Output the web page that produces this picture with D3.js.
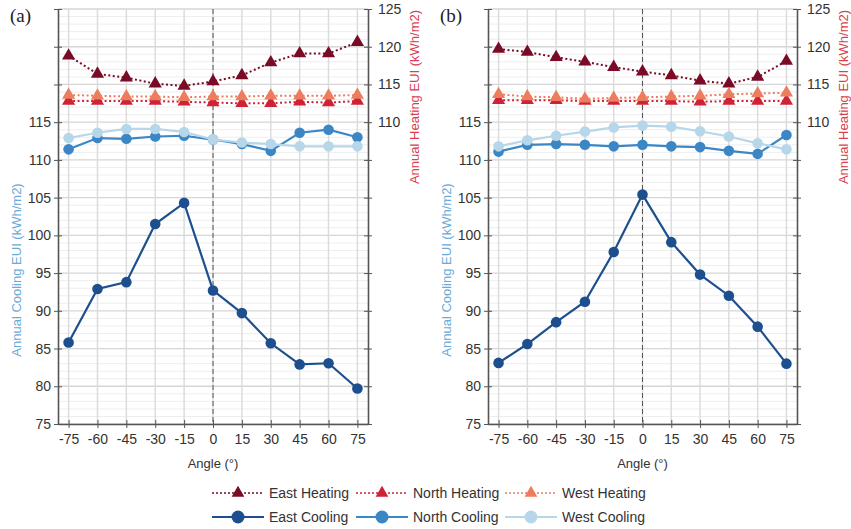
<!DOCTYPE html>
<html>
<head>
<meta charset="utf-8">
<script src="https://cdn.jsdelivr.net/npm/d3@7"></script>
<style>
  body { margin: 0; background: #fff; }
  svg text { font-family: "Liberation Sans", Arial, sans-serif; fill: #333; }
</style>
</head>
<body>
<svg id="chart" width="851" height="529"></svg>
<script>
// angles shared by both panels
const angles = [-75, -60, -45, -30, -15, 0, 15, 30, 45, 60, 75];

// panel (a)
const aEastHeating  = [118.8, 116.4, 115.9, 115.1, 114.8, 115.4, 116.2, 117.9, 119.1, 119.1, 120.6];
const aNorthHeating = [112.8, 112.8, 112.8, 112.8, 112.7, 112.6, 112.5, 112.5, 112.7, 112.6, 112.8];
const aWestHeating  = [113.6, 113.5, 113.4, 113.4, 113.3, 113.4, 113.4, 113.5, 113.5, 113.5, 113.6];
const aEastCooling  = [85.8, 92.9, 93.8, 101.5, 104.3, 92.7, 89.7, 85.7, 82.9, 83.05, 79.7];
const aNorthCooling = [111.4, 112.9, 112.8, 113.1, 113.2, 112.7, 112.1, 111.2, 113.6, 114.0, 113.0];
const aWestCooling  = [112.9, 113.6, 114.1, 114.1, 113.7, 112.7, 112.3, 112.1, 111.8, 111.8, 111.8];

// panel (b)
const bEastHeating  = [119.7, 119.3, 118.6, 118.0, 117.3, 116.7, 116.2, 115.5, 115.1, 116.0, 118.1];
const bNorthHeating = [112.9, 112.9, 112.9, 112.8, 112.8, 112.8, 112.8, 112.7, 112.8, 112.8, 112.8];
const bWestHeating  = [113.7, 113.4, 113.3, 113.1, 113.2, 113.3, 113.4, 113.5, 113.7, 113.8, 113.9];
const bEastCooling  = [83.1, 85.6, 88.5, 91.2, 97.8, 105.4, 99.1, 94.8, 92.0, 87.9, 83.0];
const bNorthCooling = [111.1, 112.0, 112.1, 112.0, 111.8, 112.0, 111.8, 111.7, 111.2, 110.8, 113.3];
const bWestCooling  = [111.8, 112.6, 113.2, 113.75, 114.3, 114.55, 114.4, 113.8, 113.1, 112.2, 111.4];

const leftTickLabels = [75, 80, 85, 90, 95, 100, 105, 110, 115];
const rightTickLabels = [110, 115, 120, 125];

const seriesNames = ['East Heating', 'North Heating', 'West Heating', 'East Cooling', 'North Cooling', 'West Cooling'];
const seriesColors = {
    'East Heating': '#7a0b26',
    'North Heating': '#cf2236',
    'West Heating': '#ec7d5e',
    'East Cooling': '#1d4f8f',
    'North Cooling': '#3b87c6',
    'West Cooling': '#b6d6ea'
};

const svg = d3.select('#chart');
const plotTop = 9, plotBottom = 424;

// Cooling on the left axis, heating on the right axis
const yLeft = d3.scaleLinear().domain([75, 130]).range([plotBottom, plotTop]);
const yRight = d3.scaleLinear().domain([70, 125]).range([plotBottom, plotTop]);

function drawPanel(x0, x1, label, heat, cool) {
    const x = d3.scaleLinear().domain([-80.5, 80.5]).range([x0, x1]);
    const g = svg.append('g');

    // minor + major horizontal grid
    g.append('g').selectAll('line')
        .data(d3.range(75, 131, 1))
        .join('line')
        .attr('x1', x0).attr('x2', x1)
        .attr('y1', d => yLeft(d)).attr('y2', d => yLeft(d))
        .style('stroke', d => d % 5 === 0 ? '#d6d6d6' : '#eeeeee')
        .style('stroke-width', d => d % 5 === 0 ? 1.3 : 1);

    // vertical grid
    g.append('g').selectAll('line')
        .data(angles)
        .join('line')
        .attr('x1', d => x(d)).attr('x2', d => x(d))
        .attr('y1', plotTop).attr('y2', plotBottom)
        .style('stroke', '#dcdcdc')
        .style('stroke-width', 1.5);

    // dashed line at 0
    g.append('line')
        .attr('x1', x(0)).attr('x2', x(0))
        .attr('y1', plotTop).attr('y2', plotBottom)
        .style('stroke', '#555')
        .style('stroke-width', 1)
        .style('stroke-dasharray', '5,3');

    // axes
    const axisLeft = d3.axisLeft(yLeft)
        .tickValues(d3.range(75, 131, 5))
        .tickSizeInner(4).tickSizeOuter(0)
        .tickFormat(d => leftTickLabels.includes(d) ? String(d) : '');
    const axisRight = d3.axisRight(yRight)
        .tickValues(d3.range(70, 126, 5))
        .tickSizeInner(4).tickSizeOuter(0)
        .tickFormat(d => rightTickLabels.includes(d) ? String(d) : '');
    const axisBottom = d3.axisBottom(x)
        .tickValues(angles)
        .tickSizeInner(4).tickSizeOuter(0)
        .tickFormat(d => String(d));

    const la = g.append('g').attr('transform', `translate(${x0},0)`).call(axisLeft);
    const ra = g.append('g').attr('transform', `translate(${x1},0)`).call(axisRight);
    const ba = g.append('g').attr('transform', `translate(0,${plotBottom})`).call(axisBottom);
    [la, ra, ba].forEach(a => {
        a.select('.domain').style('stroke', '#555').style('stroke-width', 1.6);
        a.selectAll('.tick line').style('stroke', '#555');
        a.selectAll('.tick text').style('font-size', '14px').style('fill', '#333')
            .style('font-family', '"Liberation Sans", Arial, sans-serif');
    });
    la.selectAll('.tick line').attr('x1', 4);
    ra.selectAll('.tick line').attr('x1', -4);
    ba.selectAll('.tick line').attr('y1', -4);
    la.selectAll('.tick text').attr('x', -7);
    ra.selectAll('.tick text').attr('x', 10);
    ba.selectAll('.tick text').attr('y', 10);

    // axis titles
    g.append('text')
        .attr('transform', `translate(${x0 - 42},270) rotate(-90)`)
        .attr('text-anchor', 'middle')
        .attr('dy', '0.35em')
        .style('font-size', '13px')
        .style('fill', '#6aaad6')
        .text('Annual Cooling EUI (kWh/m2)');
    g.append('text')
        .attr('transform', `translate(${x1 + 46},97) rotate(-90)`)
        .attr('text-anchor', 'middle')
        .attr('dy', '0.35em')
        .style('font-size', '13px')
        .style('fill', '#d8404e')
        .text('Annual Heating EUI (kWh/m2)');
    g.append('text')
        .attr('x', (x0 + x1) / 2).attr('y', 468)
        .attr('text-anchor', 'middle')
        .style('font-size', '13px')
        .text('Angle (°)');

    // panel label
    g.append('text')
        .attr('x', x0 - 48).attr('y', 22)
        .style('font-family', '"Liberation Serif", "Times New Roman", serif')
        .style('font-size', '19px')
        .style('fill', '#222')
        .text(label);

    const tri = d3.symbol().type(d3.symbolTriangle).size(75);

    // heating series, dotted with triangles
    heat.forEach((vals, i) => {
        const name = seriesNames[i];
        const pts = angles.map((a, j) => [a, vals[j]]);
        g.append('path')
            .datum(pts)
            .attr('d', d3.line().x(d => x(d[0])).y(d => yRight(d[1])))
            .style('fill', 'none')
            .style('stroke', seriesColors[name])
            .style('stroke-width', 2)
            .style('stroke-dasharray', '2,2.5');
        g.append('g').selectAll('path')
            .data(pts)
            .join('path')
            .attr('d', tri)
            .attr('transform', d => `translate(${x(d[0])},${yRight(d[1])})`)
            .style('fill', seriesColors[name]);
    });

    // cooling series, solid with circles
    cool.forEach((vals, i) => {
        const name = seriesNames[i + 3];
        const pts = angles.map((a, j) => [a, vals[j]]);
        g.append('path')
            .datum(pts)
            .attr('d', d3.line().x(d => x(d[0])).y(d => yLeft(d[1])))
            .style('fill', 'none')
            .style('stroke', seriesColors[name])
            .style('stroke-width', 2.2);
        g.append('g').selectAll('circle')
            .data(pts)
            .join('circle')
            .attr('cx', d => x(d[0]))
            .attr('cy', d => yLeft(d[1]))
            .attr('r', 5.3)
            .style('fill', seriesColors[name]);
    });
}

drawPanel(58, 368, '(a)',
    [aEastHeating, aNorthHeating, aWestHeating],
    [aEastCooling, aNorthCooling, aWestCooling]);
drawPanel(488, 797, '(b)',
    [bEastHeating, bNorthHeating, bWestHeating],
    [bEastCooling, bNorthCooling, bWestCooling]);

// legend, two rows of three
const legendX = [212, 356, 505];
const legendY = [493, 517];
const legend = svg.append('g').attr('class', 'legend');
seriesNames.forEach((name, i) => {
    const col = i % 3, row = Math.floor(i / 3);
    const lx = legendX[col], ly = legendY[row];
    const item = legend.append('g').attr('transform', `translate(${lx},${ly})`);
    const heating = row === 0;
    item.append('line')
        .attr('x1', 0).attr('x2', 52)
        .style('stroke', seriesColors[name])
        .style('stroke-width', heating ? 1.5 : 2)
        .style('stroke-dasharray', heating ? '2,2' : null);
    if (heating) {
        item.append('path')
            .attr('d', d3.symbol().type(d3.symbolTriangle).size(70)())
            .attr('transform', 'translate(26,0)')
            .style('fill', seriesColors[name]);
    } else {
        item.append('circle')
            .attr('cx', 26).attr('r', 6.5)
            .style('fill', seriesColors[name]);
    }
    item.append('text')
        .attr('x', 57).attr('dy', '0.35em')
        .style('font-size', '14px')
        .text(name);
});
</script>
</body>
</html>
